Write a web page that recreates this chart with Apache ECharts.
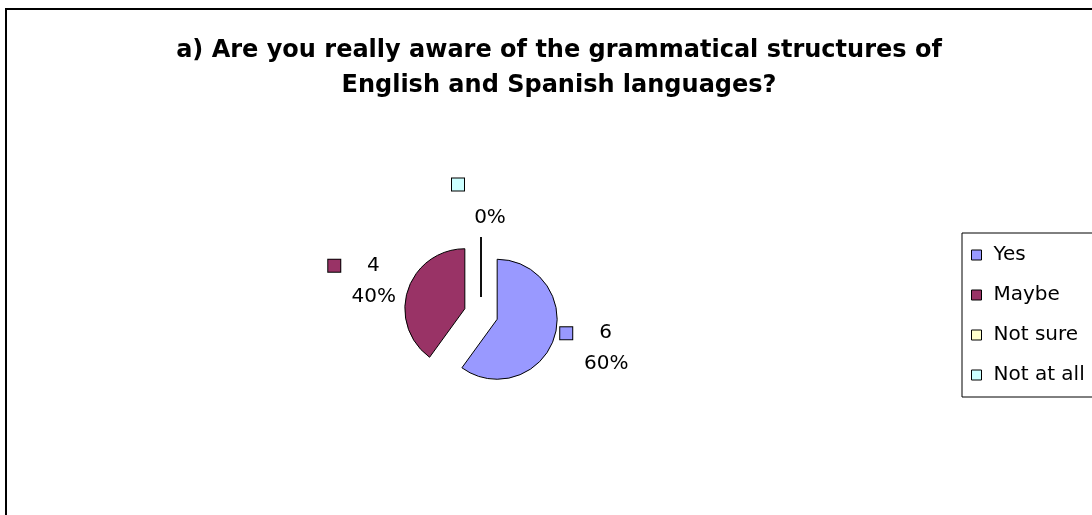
<!DOCTYPE html>
<html>
<head>
<meta charset="utf-8">
<script src="https://cdn.jsdelivr.net/npm/echarts@6/dist/echarts.min.js"></script>
<style>
  html, body { margin: 0; padding: 0; background: #fff; }
  #chart { width: 1092px; height: 515px; }
</style>
</head>
<body>
<div id="chart"></div>
<script>
// Survey answers
const categories = ['Yes', 'Maybe', 'Not sure', 'Not at all'];
const counts = [6, 4, 0, 0];
const colors = ['#9999FF', '#993366', '#FFFFCC', '#CCFFFF'];
const titleLines = [
  'a) Are you really aware of the grammatical structures of',
  'English and Spanish languages?'
];

const FONT = '"DejaVu Sans", Verdana, sans-serif';

// Nudges applied to each slice label after the pie places it
const labelNudge = [[1, 11], [17, -9], [0, 0], [53, -36]];

const total = counts.reduce((a, b) => a + b, 0);

// Rich-text pieces: key square, spacers, value and percentage
const rich = {
  v: { fontSize: 20, fontFamily: FONT, color: '#000', width: 30, align: 'center', lineHeight: 31 },
  p: { fontSize: 20, fontFamily: FONT, color: '#000', width: 92, align: 'center', lineHeight: 31 },
  v0: { width: 16, height: 13, lineHeight: 33 },
  p0: { fontSize: 20, fontFamily: FONT, color: '#000', width: 78, align: 'center', lineHeight: 33 },
  sp: { width: 18 },
  blank: { width: 13, height: 13 }
};
colors.forEach((c, i) => {
  rich['m' + i] = {
    width: 12, height: 12, backgroundColor: c,
    borderColor: '#000', borderWidth: 1
  };
});

const chart = echarts.init(document.getElementById('chart'), null, { renderer: 'canvas' });

chart.setOption({
  backgroundColor: '#fff',
  animation: false,
  title: {
    text: titleLines.join('\n'),
    left: 554,
    top: 28,
    textAlign: 'center',
    textStyle: {
      fontFamily: FONT, fontWeight: 'bold', fontSize: 24,
      color: '#000', lineHeight: 35
    }
  },
  legend: {
    orient: 'vertical',
    left: 962,
    top: 233,
    padding: [12, 60, 12, 9],
    borderColor: '#000',
    borderWidth: 1,
    itemWidth: 10,
    itemHeight: 10,
    itemGap: 20,
    icon: 'rect',
    itemStyle: { borderColor: '#000', borderWidth: 1 },
    textStyle: { fontFamily: FONT, fontSize: 20, color: '#000', padding: [0, 0, 0, 7] },
    data: categories
  },
  graphic: [{
    type: 'rect',
    shape: { x: 6, y: 9, width: 1200, height: 600 },
    style: { fill: 'none', stroke: '#000', lineWidth: 2 },
    silent: true
  }],
  series: [{
    type: 'pie',
    center: [481, 314],
    radius: 60,
    startAngle: 90,
    clockwise: true,
    selectedMode: 'multiple',
    selectedOffset: 17,
    avoidLabelOverlap: false,
    minShowLabelAngle: -1,
    itemStyle: { borderColor: '#000', borderWidth: 1 },
    emphasis: { disabled: true },
    labelLine: { show: false, length: 0, length2: 0 },
    label: {
      show: true,
      position: 'outside',
      formatter: function (p) {
        const i = p.dataIndex;
        const pct = Math.round(p.value / total * 100) + '%';
        if (p.value === 0) {
          return '{m' + i + '|}{sp|}{v0|}{sp|}{blank|}\n{p0|' + pct + '}';
        }
        return '{m' + i + '|}{sp|}{v|' + p.value + '}{sp|}{blank|}\n{p|' + pct + '}';
      },
      rich: rich
    },
    labelLayout: function (params) {
      const n = labelNudge[params.dataIndex];
      return { dx: n[0], dy: n[1] };
    },
    data: categories.map((name, i) => ({
      name: name,
      value: counts[i],
      selected: true,
      itemStyle: { color: colors[i] },
      label: { show: name !== 'Not sure' }
    }))
  }]
});
</script>
</body>
</html>
